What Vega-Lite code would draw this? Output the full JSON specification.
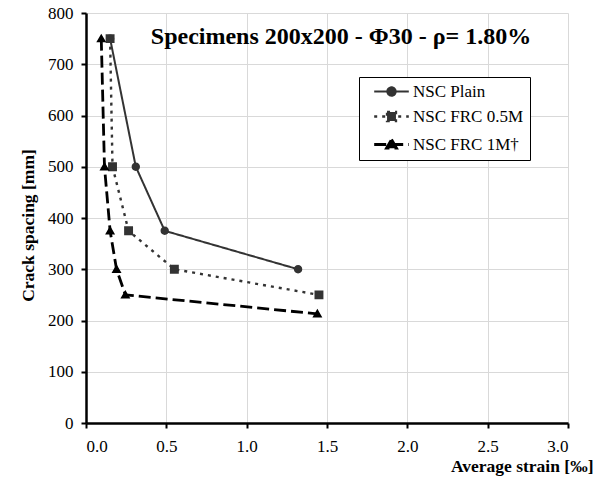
{
  "$schema": "https://vega.github.io/schema/vega-lite/v6.json",
  "width": 482,
  "height": 410,
  "autosize": "none",
  "padding": {"left": 86, "top": 13, "right": 26, "bottom": 56},
  "background": "white",
  "title": {
    "text": "Specimens 200x200 - Φ30  - ρ= 1.80%",
    "font": "Liberation Serif",
    "fontSize": 24,
    "fontWeight": "bold",
    "color": "black",
    "anchor": "middle",
    "orient": "top",
    "offset": -45,
    "dx": 14
  },
  "config": {
    "view": {"stroke": null},
    "font": "Liberation Serif",
    "axis": {
      "labelFont": "Liberation Serif",
      "labelFontSize": 17,
      "labelColor": "black",
      "titleFont": "Liberation Serif",
      "titleFontSize": 17.5,
      "titleFontWeight": "bold",
      "titleColor": "black",
      "domainColor": "black",
      "domainWidth": 2.5,
      "tickColor": "black",
      "tickWidth": 2,
      "tickSize": 5,
      "gridColor": "#d9d9d9",
      "gridWidth": 1
    }
  },
  "data": {
    "values": [
      {"series": "NSC Plain", "strain": 0.15, "spacing": 750},
      {"series": "NSC Plain", "strain": 0.31, "spacing": 500},
      {"series": "NSC Plain", "strain": 0.49, "spacing": 375},
      {"series": "NSC Plain", "strain": 1.32, "spacing": 300},
      {"series": "NSC FRC 0.5M", "strain": 0.15, "spacing": 750},
      {"series": "NSC FRC 0.5M", "strain": 0.165, "spacing": 500},
      {"series": "NSC FRC 0.5M", "strain": 0.265, "spacing": 375},
      {"series": "NSC FRC 0.5M", "strain": 0.55, "spacing": 300},
      {"series": "NSC FRC 0.5M", "strain": 1.45, "spacing": 250},
      {"series": "NSC FRC 1M†", "strain": 0.095, "spacing": 750},
      {"series": "NSC FRC 1M†", "strain": 0.115, "spacing": 500},
      {"series": "NSC FRC 1M†", "strain": 0.15, "spacing": 375},
      {"series": "NSC FRC 1M†", "strain": 0.19, "spacing": 300},
      {"series": "NSC FRC 1M†", "strain": 0.245, "spacing": 250},
      {"series": "NSC FRC 1M†", "strain": 1.44, "spacing": 213}
    ]
  },
  "encoding": {
    "x": {
      "field": "strain",
      "type": "quantitative",
      "scale": {"domain": [0, 3], "nice": false},
      "axis": {
        "values": [0, 0.5, 1, 1.5, 2, 2.5, 3],
        "format": ".1f",
        "labelPadding": 10,
        "title": "Average strain [‰]",
        "titleAnchor": "end",
        "titleAlign": "right",
        "titleX": 507,
        "titleY": 48,
        "titleBaseline": "alphabetic"
      }
    },
    "y": {
      "field": "spacing",
      "type": "quantitative",
      "scale": {"domain": [0, 800], "nice": false},
      "axis": {
        "values": [0, 100, 200, 300, 400, 500, 600, 700, 800],
        "labelPadding": 8,
        "title": "Crack spacing [mm]",
        "titleX": -53,
        "titleY": 212,
        "titleAngle": -90,
        "titleAlign": "center",
        "titleBaseline": "alphabetic"
      }
    }
  },
  "layer": [
    {
      "mark": {"type": "line"},
      "encoding": {
        "color": {
          "field": "series",
          "type": "nominal",
          "scale": {"domain": ["NSC Plain", "NSC FRC 0.5M", "NSC FRC 1M†"], "range": ["#333333", "#333333", "#000000"]},
          "legend": {
            "title": null,
            "orient": "none",
            "legendX": 273,
            "legendY": 64,
            "padding": 6,
            "strokeColor": "black",
            "fillColor": "white",
            "cornerRadius": 0,
            "labelFont": "Liberation Serif",
            "labelFontSize": 17,
            "labelColor": "black",
            "symbolSize": 110,
            "symbolOffset": 18,
            "labelOffset": 13,
            "rowPadding": 7,
            "symbolStrokeWidth": 2.5
          }
        },
        "strokeDash": {
          "field": "series",
          "type": "nominal",
          "scale": {"domain": ["NSC Plain", "NSC FRC 0.5M", "NSC FRC 1M†"], "range": [[1, 0], [3, 5], [12, 5]]}
        },
        "strokeWidth": {
          "field": "series",
          "type": "nominal",
          "scale": {"domain": ["NSC Plain", "NSC FRC 0.5M", "NSC FRC 1M†"], "range": [2, 2.8, 2.8]},
          "legend": null
        }
      }
    },
    {
      "mark": {"type": "point", "filled": true, "opacity": 1, "size": 110},
      "encoding": {
        "shape": {
          "field": "series",
          "type": "nominal",
          "scale": {
            "domain": ["NSC Plain", "NSC FRC 0.5M", "NSC FRC 1M†"],
            "range": [
              "M-3.3,0L3.3,0M-0.8,0A0.8,0.8 0 1,1 0.8,0A0.8,0.8 0 1,1 -0.8,0Z",
              "M-3.3,0L3.3,0M-0.85,-0.85L0.85,-0.85L0.85,0.85L-0.85,0.85Z",
              "M-3.3,0L3.3,0M0,-0.95L0.95,0.7L-0.95,0.7Z"
            ]
          }
        },
        "fill": {
          "field": "series",
          "type": "nominal",
          "scale": {"domain": ["NSC Plain", "NSC FRC 0.5M", "NSC FRC 1M†"], "range": ["#333333", "#333333", "#000000"]}
        }
      }
    }
  ]
}
